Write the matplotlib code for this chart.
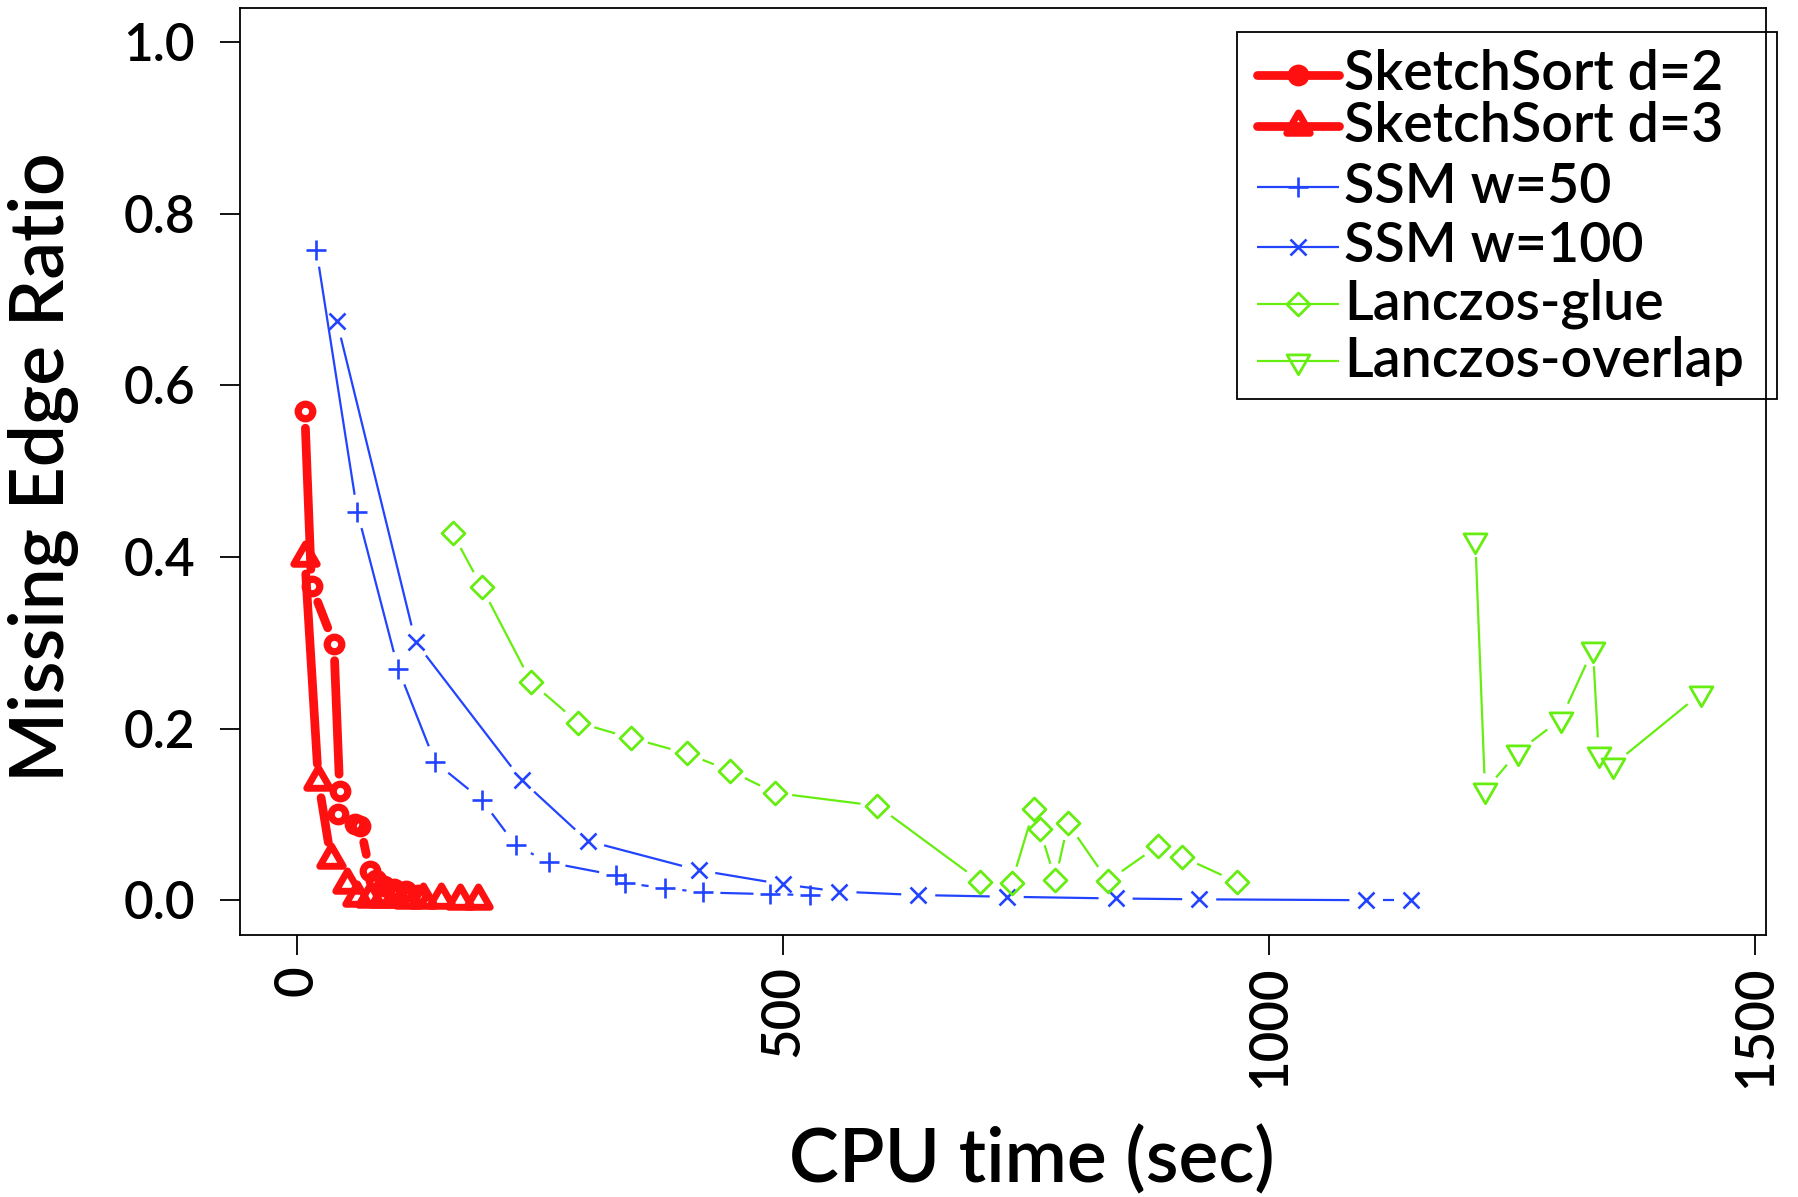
import numpy as np
import matplotlib
matplotlib.use("Agg")
import matplotlib.pyplot as plt
from matplotlib.lines import Line2D
from matplotlib.patches import Rectangle
from matplotlib.path import Path

# ---------------- data ----------------
d2_x = [8, 15, 38, 44, 42, 60, 65, 75, 81, 90, 100, 112, 124]
d2_y = [0.570, 0.366, 0.299, 0.127, 0.100, 0.089, 0.087, 0.034, 0.024, 0.017, 0.013, 0.011, 0.006]

d3_x = [8, 22, 35, 51, 62, 75, 88, 101, 114, 130, 148, 168, 186]
d3_y = [0.400, 0.139, 0.048, 0.019, 0.004, 0.003, 0.002, 0.002, 0.001, 0.001, 0.001, 0.0, 0.0]

w50_x = [20, 62, 104, 142, 190, 225, 259, 328, 337, 379, 418, 487, 528]
w50_y = [0.758, 0.453, 0.270, 0.161, 0.117, 0.064, 0.044, 0.029, 0.020, 0.014, 0.009, 0.007, 0.006]

w100_x = [41, 122, 231, 299, 413, 500, 558, 639, 730, 842, 928, 1100, 1146]
w100_y = [0.675, 0.301, 0.140, 0.069, 0.035, 0.0185, 0.010, 0.006, 0.004, 0.002, 0.001, 0.0, 0.0]

glue_x = [160, 190, 241, 289, 344, 401, 445, 492, 597, 703, 735, 758, 764, 780, 793, 834, 886, 910, 967]
glue_y = [0.428, 0.365, 0.254, 0.207, 0.189, 0.171, 0.151, 0.125, 0.110, 0.0216, 0.020,
          0.106, 0.083, 0.0235, 0.0896, 0.0224, 0.0636, 0.0507, 0.0212]

overlap_x = [1212, 1222, 1256, 1300, 1333, 1339, 1354, 1444]
overlap_y = [0.420, 0.128, 0.173, 0.211, 0.2925, 0.170, 0.158, 0.241]

labels = ["SketchSort d=2", "SketchSort d=3", "SSM w=50", "SSM w=100",
          "Lanczos-glue", "Lanczos-overlap"]
xticks = [0, 500, 1000, 1500]
yticks = [0.0, 0.2, 0.4, 0.6, 0.8, 1.0]

# ---------------- style ----------------
FONT = "Lato"
plt.rcParams["font.family"] = [FONT, "DejaVu Sans"]
WEIGHT = "semibold"
RED = "#FF1010"
BLUE = "#2244FF"
GREEN = "#66EE11"


def closed(verts):
    v = list(verts) + [verts[0]]
    codes = [Path.MOVETO] + [Path.LINETO] * (len(verts) - 1) + [Path.CLOSEPOLY]
    return Path(v, codes)


TRI_UP = closed([(0, 1.555), (-1.347, -0.778), (1.347, -0.778)])
TRI_DN = closed([(0, -1.555), (-1.347, 0.778), (1.347, 0.778)])
DIAM = closed([(0, 1), (1, 0), (0, -1), (-1, 0)])

series = [
    dict(x=d2_x, y=d2_y, c=RED, lw=6.3, m="o", ms=10.5, mew=5.2),
    dict(x=d3_x, y=d3_y, c=RED, lw=6.3, m=TRI_UP, ms=19.5, mew=5.0),
    dict(x=w50_x, y=w50_y, c=BLUE, lw=1.6, m="+", ms=15, mew=1.9),
    dict(x=w100_x, y=w100_y, c=BLUE, lw=1.6, m="x", ms=12, mew=1.9),
    dict(x=glue_x, y=glue_y, c=GREEN, lw=1.6, m=DIAM, ms=16.5, mew=2.0),
    dict(x=overlap_x, y=overlap_y, c=GREEN, lw=1.6, m=TRI_DN, ms=19, mew=2.0),
]

W, H = 1798, 1197
fig = plt.figure(figsize=(W / 100, H / 100), dpi=100)
L, R, T, B = 240, 1766, 8, 934.5
ax = fig.add_axes([L / W, 1 - B / H, (R - L) / W, (B - T) / H])
ax.set_xlim(-58.6, 1511)
ax.set_ylim(-0.04, 1.04)


def gapped(ax, x, y, gap, **kw):
    pts = ax.transData.transform(np.column_stack([x, y]))
    inv = ax.transData.inverted()
    for p0, p1 in zip(pts[:-1], pts[1:]):
        d = p1 - p0
        ln = np.hypot(d[0], d[1])
        if ln <= 2 * gap + 1:
            continue
        u = d / ln
        a = inv.transform(p0 + u * gap)
        b = inv.transform(p1 - u * gap)
        ax.plot([a[0], b[0]], [a[1], b[1]], **kw)


for s in series:
    gapped(ax, s["x"], s["y"], 17, color=s["c"], lw=s["lw"],
           solid_capstyle="round" if s["lw"] > 3 else "butt")
    ax.plot(s["x"], s["y"], linestyle="none", marker=s["m"], ms=s["ms"],
            mew=s["mew"], mec=s["c"], mfc="none")

# axes styling
for sp in ax.spines.values():
    sp.set_linewidth(1.3)
ax.set_xticks(xticks)
ax.set_xticklabels([str(v) for v in xticks], rotation=90, fontweight=WEIGHT)
ax.set_yticks(yticks)
ax.set_yticklabels(["%.1f" % v for v in yticks], fontweight=WEIGHT)
ax.tick_params(axis="y", length=14.4, width=1.3, pad=18, labelsize=37)
ax.tick_params(axis="x", length=14.4, width=1.3, pad=8, labelsize=38)

fig.text(1032 / W, 1 - 1160 / H, "CPU time (sec)", ha="center", va="center",
         fontsize=54, fontweight=WEIGHT)
fig.text(44 / W, 1 - 467 / H, "Missing Edge Ratio", ha="center", va="center",
         rotation=90, fontsize=54, fontweight=WEIGHT)

# legend (manual, in figure pixel coordinates)
lx0, ly0, lx1, ly1 = 1237, 32, 1777, 399
fig.patches.append(Rectangle((lx0 / W, 1 - ly1 / H), (lx1 - lx0) / W, (ly1 - ly0) / H,
                             transform=fig.transFigure, fill=False,
                             edgecolor="black", linewidth=1.3))
rows = [74.5, 126, 187, 246.5, 304, 361]
for s, lab, yr in zip(series, labels, rows):
    yf = 1 - yr / H
    fig.lines.append(Line2D([1257 / W, 1339 / W], [yf, yf], transform=fig.transFigure,
                            color=s["c"], lw=s["lw"],
                            solid_capstyle="round" if s["lw"] > 3 else "butt"))
    fig.lines.append(Line2D([1298 / W], [yf], transform=fig.transFigure,
                            linestyle="none", marker=s["m"], ms=s["ms"], mew=s["mew"],
                            mec=s["c"], mfc="none"))
    fig.text(1344 / W, yf, lab, ha="left", va="center", fontsize=40, fontweight=WEIGHT)

fig.savefig("out.png", dpi=100)
